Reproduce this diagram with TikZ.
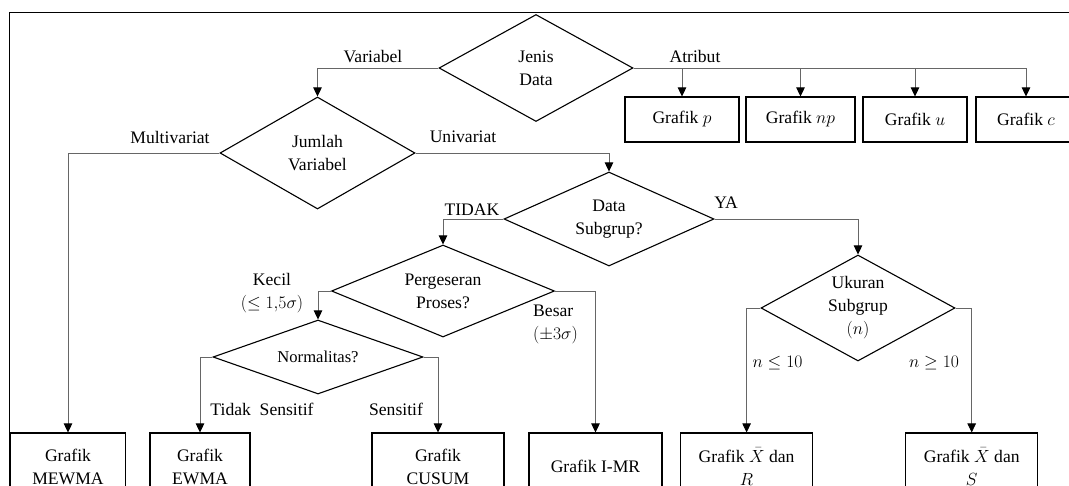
\RequirePackage{fix-cm}
\documentclass[tikz,border=0pt]{standalone}
\usepackage{fontspec}
\setmainfont{Liberation Serif}
\usetikzlibrary{shapes.geometric,arrows.meta}
\tikzset{
  dec/.style={diamond, draw=black, line width=1.1pt, inner sep=0pt, align=center, aspect=1.8},
  gbox/.style={rectangle, draw=black, line width=1.1pt, inner sep=0pt, align=center},
  conn/.style={draw=black!60, line width=0.8pt},
  arr/.style={conn, -{Triangle[length=9pt,width=8.5pt,color=black]}},
  lbl/.style={inner sep=0pt, align=center},
}
\begin{document}
\begin{tikzpicture}[x=1pt,y=-1pt,font=\fontsize{17.6}{23}\selectfont]
\clip (0,0) rectangle (1069,485);
\draw[line width=1.1pt] (9.5,12.5) rectangle (1085,505);

% decisions
\node[dec, minimum width=194pt, minimum height=107pt] (jenis) at (536,68) {Jenis\\Data};
\node[dec, minimum width=195pt, minimum height=112pt] (jumlah) at (317.5,153) {Jumlah\\Variabel};
\node[dec, minimum width=210pt, minimum height=94pt] (subgrup) at (609,219) {Data\\Subgrup?};
\node[dec, minimum width=223pt, minimum height=92pt] (pergeseran) at (443,291) {Pergeseran\\Proses?};
\node[dec, minimum width=210pt, minimum height=74pt, font=\fontsize{16.6}{20}\selectfont] (normalitas) at (318,357) {Normalitas?};
\node[dec, minimum width=194pt, minimum height=106pt] (ukuran) at (858,308) {Ukuran\\Subgrup\\$(n)$};

% top boxes
\node[gbox, minimum width=114pt, minimum height=45pt] (gp) at (682,119.5) {Grafik $p$};
\node[gbox, minimum width=109pt, minimum height=45pt] (gnp) at (800.5,119.5) {Grafik $np$};
\node[gbox, minimum width=104pt, minimum height=45pt] (gu) at (915,119.5) {Grafik $u$};
\node[gbox, minimum width=100pt, minimum height=45pt] (gc) at (1026,119.5) {Grafik $c$};

% bottom boxes
\node[gbox, minimum width=115pt, minimum height=67pt] (mewma) at (68,466.5) {Grafik\\MEWMA};
\node[gbox, minimum width=100pt, minimum height=67pt] (ewma) at (200,466.5) {Grafik\\EWMA};
\node[gbox, minimum width=132pt, minimum height=67pt] (cusum) at (438,466.5) {Grafik\\CUSUM};
\node[gbox, minimum width=133pt, minimum height=67pt] (imr) at (595.5,466.5) {Grafik I-MR};
\node[gbox, minimum width=132pt, minimum height=67pt] (xr) at (746.6,466.5) {Grafik $\bar{X}$ dan\\$R$};
\node[gbox, minimum width=132pt, minimum height=67pt] (xs) at (971.7,466.5) {Grafik $\bar{X}$ dan\\$S$};

% connectors
\draw[arr] (jenis.west) -| (jumlah.north);
\draw[arr] (jenis.east) -| (gc.north);
\draw[arr] (jenis.east -| gp.north) -- (gp.north);
\draw[arr] (jenis.east -| gnp.north) -- (gnp.north);
\draw[arr] (jenis.east -| gu.north) -- (gu.north);
\draw[arr] (jumlah.west) -| (mewma.north);
\draw[arr] (jumlah.east) -| (subgrup.north);
\draw[arr] (subgrup.west) -| (pergeseran.north);
\draw[arr] (subgrup.east) -| (ukuran.north);
\draw[arr] (pergeseran.west) -| (normalitas.north);
\draw[arr] (pergeseran.east) -| (imr.north);
\draw[arr] (normalitas.west) -| (ewma.north);
\draw[arr] (normalitas.east) -| (cusum.north);
\draw[arr] (ukuran.west) -| (xr.north);
\draw[arr] (ukuran.east) -| (xs.north);

% labels
\node[lbl] (lvar) at (373,57) {Variabel};
\node[lbl] (latr) at (695,56) {Atribut};
\node[lbl] (lmul) at (170,137) {Multivariat};
\node[lbl] (luni) at (463,137) {Univariat};
\node[lbl] (ltid) at (472,210) {TIDAK};
\node[lbl] (lya) at (726,203) {YA};
\node[lbl] (lkec) at (272,293) {Kecil\\$(\le 1{,}5\sigma)$};
\node[lbl, anchor=west, align=left] (lbes) at (533,324) {Besar\\$(\pm 3\sigma)$};
\node[lbl] (lts) at (262,409) {Tidak\enspace Sensitif};
\node[lbl] (lsen) at (396,409) {Sensitif};
\node[lbl] (lnle) at (777.5,363) {$n \le 10$};
\node[lbl] (lnge) at (934,363) {$n \ge 10$};
\end{tikzpicture}
\end{document}
